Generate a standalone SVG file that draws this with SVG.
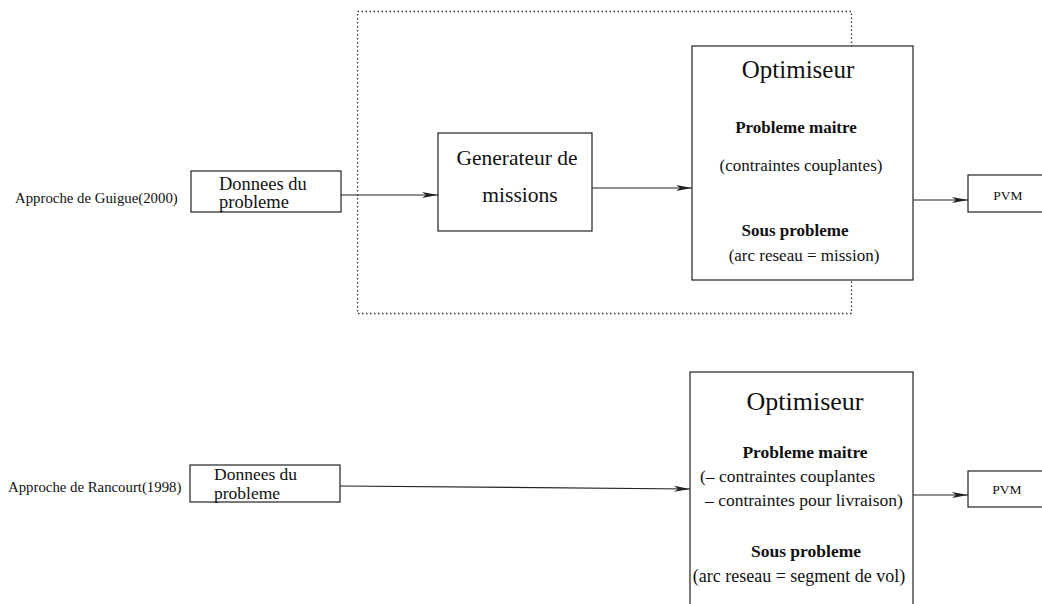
<svg xmlns="http://www.w3.org/2000/svg" width="1042" height="604" viewBox="0 0 1042 604" font-family="'Liberation Serif', 'DejaVu Serif', serif">
<style>
text{font-family:'Liberation Serif','DejaVu Serif',serif;fill:#111}
.box{fill:#fff;stroke:#222;stroke-width:1.2}
.ln{stroke:#222;stroke-width:1.2;fill:none}
.b{font-weight:bold}
.m{text-anchor:middle}
</style>
<defs>
<marker id="ah" markerWidth="16" markerHeight="8" refX="16" refY="4" orient="auto" markerUnits="userSpaceOnUse">
<path d="M0,1 L16,4 L0,7 L4,4 Z" fill="#222"/>
</marker>
</defs>
<rect x="357.5" y="11.5" width="494" height="302" fill="none" stroke="#333" stroke-width="1.3" stroke-dasharray="1.5,2.5"/>
<g id="label1"><text x="15" y="203" font-size="14.8">Approche de Guigue(2000)</text></g>
<g id="label2"><text x="8" y="492" font-size="14.8">Approche de Rancourt(1998)</text></g>
<g id="donnees1">
<rect class="box" x="191" y="171" width="150" height="41"/>
<text x="219" y="190" font-size="18.5">Donnees du</text>
<text x="219" y="208" font-size="18.5">probleme</text>
</g>
<g id="generateur">
<rect class="box" x="438" y="133" width="154" height="98"/>
<text class="m" x="517" y="165" font-size="21.5">Generateur de</text>
<text class="m" x="520" y="202" font-size="21.5">missions</text>
</g>
<g id="optimiseur1">
<rect class="box" x="692" y="46" width="221" height="234"/>
<text class="m" x="798" y="78" font-size="25">Optimiseur</text>
<text class="m b" x="796" y="133" font-size="17">Probleme maitre</text>
<text class="m" x="801" y="171" font-size="17">(contraintes couplantes)</text>
<text class="m b" x="795" y="236" font-size="17">Sous probleme</text>
<text class="m" x="804" y="261" font-size="17">(arc reseau = mission)</text>
</g>
<g id="pvm1">
<rect class="box" x="968" y="175" width="80" height="37"/>
<text class="m" x="1008" y="200" font-size="13.5">PVM</text>
</g>
<g id="donnees2">
<rect class="box" x="190" y="465" width="150" height="37"/>
<text x="214" y="480" font-size="17.5">Donnees du</text>
<text x="214" y="499" font-size="17.5">probleme</text>
</g>
<g id="optimiseur2">
<rect class="box" x="690" y="372" width="223" height="240"/>
<text class="m" x="805" y="410" font-size="26">Optimiseur</text>
<text class="m b" x="805" y="458" font-size="17.5">Probleme maitre</text>
<text x="700" y="482" font-size="17.5">(– contraintes couplantes</text>
<text x="705" y="506" font-size="17.5">– contraintes pour livraison)</text>
<text class="m b" x="806" y="557" font-size="17.5">Sous probleme</text>
<text class="m" x="799" y="582" font-size="18">(arc reseau = segment de vol)</text>
</g>
<g id="pvm2">
<rect class="box" x="968" y="471" width="80" height="36"/>
<text class="m" x="1007" y="494" font-size="13.5">PVM</text>
</g>
<g id="connectors">
<line class="ln" x1="340" y1="486" x2="690" y2="489" marker-end="url(#ah)"/>
<line class="ln" x1="341" y1="195" x2="438" y2="195" marker-end="url(#ah)"/>
<line class="ln" x1="592" y1="188" x2="692" y2="188" marker-end="url(#ah)"/>
<line class="ln" x1="913" y1="200" x2="968" y2="200" marker-end="url(#ah)"/>
<line class="ln" x1="913" y1="495" x2="968" y2="495" marker-end="url(#ah)"/>
</g>
</svg>
